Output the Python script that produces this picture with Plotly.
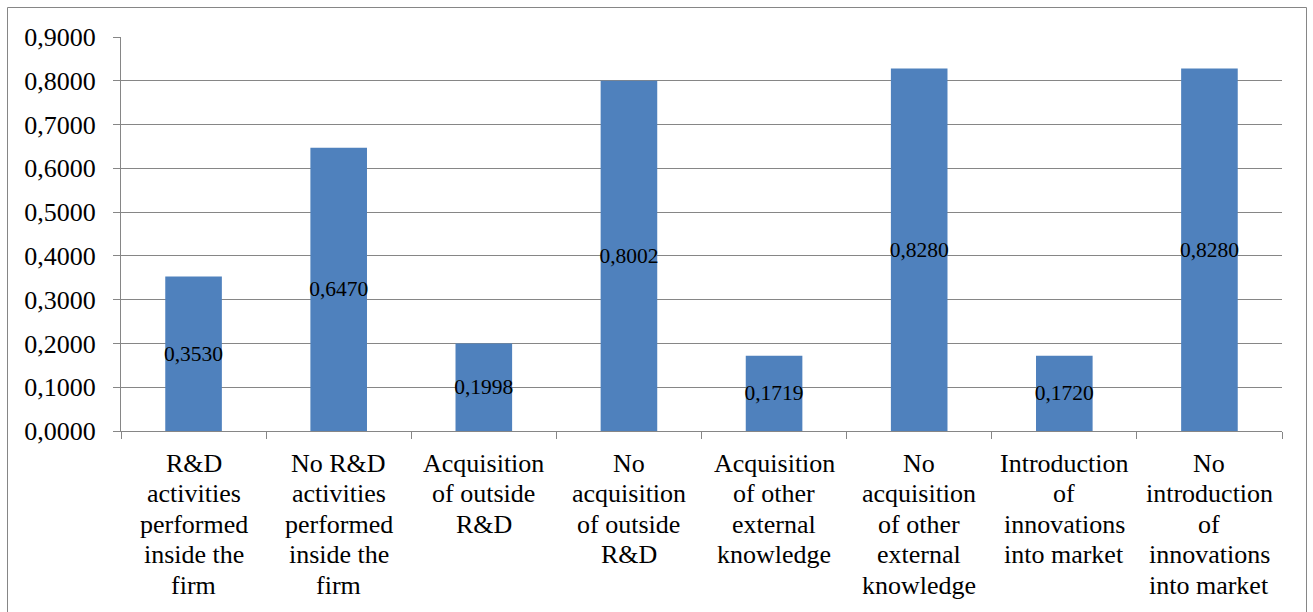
import plotly.graph_objects as go

categories = [
    "R&D<br>activities<br>performed<br>inside the<br>firm",
    "No R&D<br>activities<br>performed<br>inside the<br>firm",
    "Acquisition<br>of outside<br>R&D",
    "No<br>acquisition<br>of outside<br>R&D",
    "Acquisition<br>of other<br>external<br>knowledge",
    "No<br>acquisition<br>of other<br>external<br>knowledge",
    "Introduction<br>of<br>innovations<br>into market",
    "No<br>introduction<br>of<br>innovations<br>into market",
]
values = [0.3530, 0.6470, 0.1998, 0.8002, 0.1719, 0.8280, 0.1720, 0.8280]
y_ticks = [0.0, 0.1, 0.2, 0.3, 0.4, 0.5, 0.6, 0.7, 0.8, 0.9]

FONT = "Liberation Serif, Times New Roman, serif"
GRID = "#868686"

W, H = 1313, 612
L, R, T, B = 121, 31, 37, 181
pw = W - L - R
ph = H - T - B

fig = go.Figure()
fig.add_trace(go.Bar(
    x=categories, y=values,
    marker=dict(color="#4F81BD", line=dict(width=0)),
    texttemplate="%{y:.4f}",
    textposition="inside",
    insidetextanchor="middle",
    constraintext="none",
    textfont=dict(family=FONT, size=21.5, color="black"),
    textangle=0,
    hoverinfo="skip",
))

annotations = []
for cat in categories:
    lines = cat.split("<br>")
    for i, ln in enumerate(lines):
        annotations.append(dict(
            x=cat, xref="x", y=0, yref="paper",
            text=ln, showarrow=False,
            yanchor="middle", xanchor="center",
            yshift=-(32 + 30.5 * i),
            font=dict(family=FONT, size=26, color="black"),
        ))

fig.update_layout(
    width=W, height=H,
    margin=dict(l=L, r=R, t=T, b=B, pad=0),
    paper_bgcolor="white", plot_bgcolor="white",
    separators=",.",
    bargap=0.61,
    showlegend=False,
    font=dict(family=FONT, color="black"),
    annotations=annotations,
    shapes=[dict(
        type="rect", xref="paper", yref="paper",
        x0=(7.5 - L) / pw, x1=(1306.5 - L) / pw,
        y0=-(H + 20 - (H - B)) / ph, y1=(H - B - 7.5) / ph,
        line=dict(color=GRID, width=1), fillcolor="rgba(0,0,0,0)",
        layer="below",
    )],
)
fig.update_xaxes(
    showgrid=False, showline=True, linecolor=GRID, linewidth=1,
    ticks="outside", ticklen=7, tickcolor=GRID, tickson="boundaries",
    showticklabels=False, fixedrange=True,
)
fig.update_yaxes(
    range=[0, 0.9], tickvals=y_ticks, tickformat=".4f",
    showgrid=True, gridcolor=GRID, gridwidth=1,
    showline=True, linecolor=GRID, linewidth=1,
    ticks="outside", ticklen=7, tickcolor=GRID,
    ticklabelstandoff=12,
    tickfont=dict(family=FONT, size=26, color="black"),
    zeroline=False, fixedrange=True,
)

fig.write_html(
    "out.html",
    config={"displayModeBar": False},
    post_script="document.body.style.margin='0';document.body.style.overflow='hidden';",
)
